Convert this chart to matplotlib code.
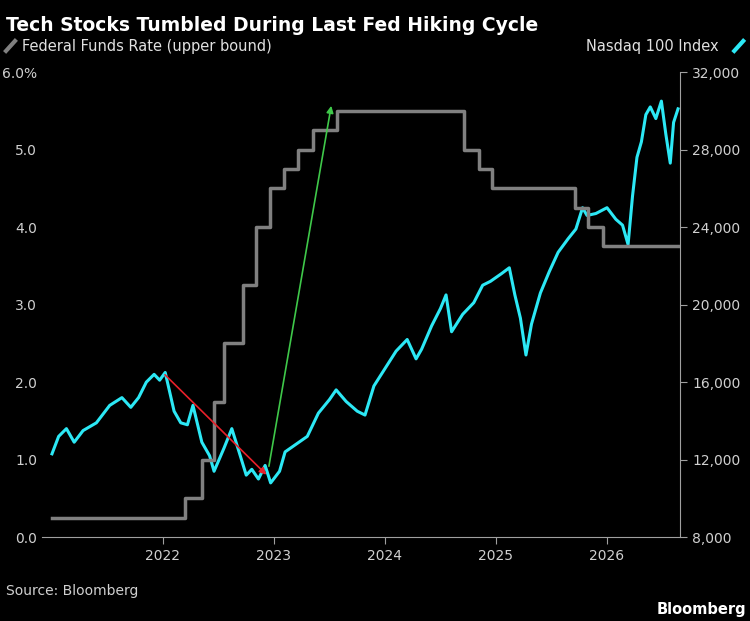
import matplotlib.pyplot as plt
from matplotlib.lines import Line2D

# Fed funds upper bound (step changes)
fed_x = [2021.0, 2022.2, 2022.35, 2022.46, 2022.55, 2022.72, 2022.84, 2022.96, 2023.09, 2023.22, 2023.35, 2023.57,
         2024.71, 2024.85, 2024.96, 2025.71, 2025.83, 2025.96, 2026.64]
fed_y = [0.25, 0.5, 1.0, 1.75, 2.5, 3.25, 4.0, 4.5, 4.75, 5.0, 5.25, 5.5,
         5.0, 4.75, 4.5, 4.25, 4.0, 3.75, 3.75]

# Nasdaq 100 index
ndx_x = [2021.0, 2021.06, 2021.13, 2021.2, 2021.28, 2021.4, 2021.52, 2021.63, 2021.71, 2021.78, 2021.85, 2021.92,
         2021.97, 2022.02, 2022.1, 2022.16, 2022.22, 2022.27, 2022.35, 2022.42, 2022.46, 2022.55, 2022.62, 2022.68,
         2022.75, 2022.8, 2022.86, 2022.92, 2022.97, 2023.05, 2023.1, 2023.2, 2023.3, 2023.4, 2023.5, 2023.56,
         2023.65, 2023.75, 2023.82, 2023.9, 2024.0, 2024.1, 2024.2, 2024.28, 2024.33, 2024.42, 2024.5, 2024.55,
         2024.6, 2024.7, 2024.8, 2024.88, 2024.95, 2025.05, 2025.12, 2025.17, 2025.22, 2025.27, 2025.32, 2025.4,
         2025.48, 2025.56, 2025.65, 2025.72, 2025.78, 2025.82, 2025.9, 2026.0, 2026.08, 2026.14, 2026.19, 2026.23,
         2026.27, 2026.31, 2026.35, 2026.39, 2026.44, 2026.49, 2026.53, 2026.57, 2026.6, 2026.64]
ndx_y = [12300, 13200, 13600, 12900, 13500, 13900, 14800, 15200, 14700, 15200, 16000, 16400,
         16100, 16500, 14500, 13900, 13800, 14800, 12900, 12200, 11400, 12600, 13600, 12500,
         11200, 11500, 11000, 11700, 10800, 11400, 12400, 12800, 13200, 14400, 15100, 15600,
         15000, 14500, 14300, 15800, 16700, 17600, 18200, 17200, 17700, 18900, 19800, 20500,
         18600, 19500, 20100, 21000, 21200, 21600, 21900, 20500, 19300, 17400, 19000, 20600,
         21700, 22700, 23400, 23900, 25000, 24600, 24700, 25000, 24400, 24100, 23100, 25600,
         27600, 28400, 29800, 30200, 29600, 30500, 28800, 27300, 29400, 30100]

year_ticks = [2022, 2023, 2024, 2025, 2026]
left_ticks = [0, 1, 2, 3, 4, 5, 6]
right_ticks = [8000, 12000, 16000, 20000, 24000, 28000, 32000]

bg = 'black'
fig = plt.figure(figsize=(7.5, 6.21), dpi=100, facecolor=bg)
ax = fig.add_axes([0.056, 0.135, 0.851, 0.749], facecolor=bg)
ax2 = ax.twinx()

ax.step(fed_x, fed_y, where='post', color='#808080', lw=2.5)
ax2.plot(ndx_x, ndx_y, color='#2ce8f5', lw=2.2)
ax.set_zorder(ax2.get_zorder() + 1)
ax.patch.set_visible(False)

ax.annotate('', xy=(2022.95, 0.78), xytext=(2022.0, 2.12),
            arrowprops=dict(arrowstyle='-|>', color='#e8202a', lw=1.2))
ax.annotate('', xy=(2023.52, 5.6), xytext=(2022.95, 0.88),
            arrowprops=dict(arrowstyle='-|>', color='#3fc84a', lw=1.2))

ax.set_xlim(2020.91, 2026.66)
ax.set_ylim(0, 6)
ax2.set_ylim(8000, 32000)
ax.set_xticks(year_ticks)
ax.set_xticklabels([str(y) for y in year_ticks])
ax.set_yticks(left_ticks)
ax.set_yticklabels(['0.0', '1.0', '2.0', '3.0', '4.0', '5.0', '6.0%'])
ax2.set_yticks(right_ticks)
ax2.set_yticklabels([f'{v:,}' for v in right_ticks])

for a in (ax, ax2):
    for s in a.spines.values():
        s.set_visible(False)
    a.tick_params(colors='#d0d0d0', labelsize=10, length=5, color='#a0a0a0')
ax.spines['bottom'].set_visible(True)
ax.spines['bottom'].set_color('#a0a0a0')
ax2.spines['right'].set_visible(True)
ax2.spines['right'].set_color('#a0a0a0')
ax.tick_params(axis='y', length=0)

fig.text(0.008, 0.975, 'Tech Stocks Tumbled During Last Fed Hiking Cycle', color='white',
         fontsize=13.5, fontweight='bold', va='top')
fig.add_artist(Line2D([0.008, 0.02], [0.918, 0.934], color='#808080', lw=3))
fig.text(0.03, 0.925, 'Federal Funds Rate (upper bound)', color='#e0e0e0', fontsize=10.5, va='center')
fig.text(0.958, 0.925, 'Nasdaq 100 Index', color='#e0e0e0', fontsize=10.5, va='center', ha='right')
fig.add_artist(Line2D([0.979, 0.991], [0.918, 0.934], color='#2ce8f5', lw=3))
fig.text(0.008, 0.048, 'Source: Bloomberg', color='#d0d0d0', fontsize=10, va='center')
fig.text(0.995, 0.018, 'Bloomberg', color='white', fontsize=10.5, fontweight='bold', ha='right', va='center')

fig.savefig('out.png', dpi=100, facecolor=bg)
